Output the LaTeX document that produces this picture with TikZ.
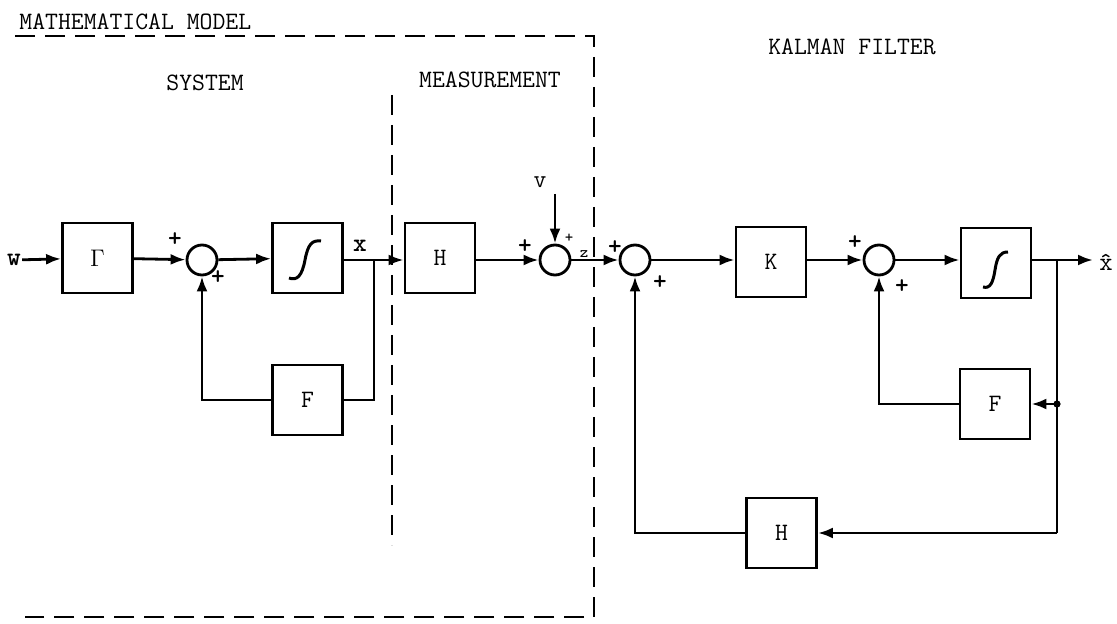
\documentclass[tikz,border=0pt]{standalone}
\usepackage{fontspec}
\usetikzlibrary{arrows.meta}
\begin{document}
\begin{tikzpicture}[x=0.5pt,y=-0.5pt, line width=1.4pt,
  blk/.style={draw, minimum width=35pt, minimum height=35pt, inner sep=0pt, font=\ttfamily\fontsize{12.5}{14}\selectfont},
  sumj/.style={draw, circle, minimum size=15pt, inner sep=0pt},
  lbl/.style={font=\ttfamily\fontsize{12.5}{14}\selectfont, inner sep=0pt},
  sgn/.style={font=\ttfamily\bfseries\fontsize{13}{13}\selectfont, inner sep=0pt},
  arr/.style={-{Latex[length=7.5pt,width=5.5pt]}},
  frame/.style={dash pattern=on 10pt off 5pt, line width=1.2pt}]
\useasboundingbox (0,0) rectangle (1117,624);

% titles
\node[lbl, anchor=west] (tmm) at (18,22) {MATHEMATICAL MODEL};
\node[lbl] (tsys) at (205,83) {SYSTEM};
\node[lbl] (tmeas) at (490,80) {MEASUREMENT};
\node[lbl] (tkf) at (852,47) {KALMAN FILTER};

% frames
\draw[frame] (15,36) -- (594,36) -- (594,617) -- (25,617);
\draw[frame] (392,95) -- (392,545);

% blocks
\node[lbl, font=\ttfamily\bfseries\fontsize{13}{14}\selectfont] (w) at (14,260) {w};
\node[blk] (G) at (97.5,258) {$\Gamma$};
\node[sumj] (s1) at (202,260) {};
\node[blk] (I1) at (307.5,258) {};
\node[blk] (F1) at (307.5,400) {F};
\node[blk] (H1) at (440,258) {H};
\node[sumj] (s2) at (555,260) {};
\node[lbl] (v) at (540,182) {v};
\coordinate (vt) at (555,194);
\node[sumj] (s3) at (635,260) {};
\node[blk] (K) at (771,262) {K};
\node[sumj] (s4) at (879,260) {};
\node[blk] (I2) at (996,263) {};
\node[blk] (F2) at (995,404) {F};
\node[blk] (H2) at (781.5,533) {H};
\node[lbl, font=\ttfamily\bfseries\fontsize{13}{14}\selectfont] (xl) at (360,246) {x};
\node[lbl, font=\ttfamily\fontsize{13}{14}\selectfont] (xh) at (1106,262) {\^x};
\node[lbl, font=\ttfamily\fontsize{8}{9}\selectfont] (zl) at (584,254) {z};

% integrator glyphs
\draw[line width=1.5pt] (289,278) .. controls (297,281) and (302,276) .. (305,260)
  .. controls (308,244) and (312,240) .. (321,241);
\draw[line width=1.5pt] (983,287) .. controls (990,289) and (993,283) .. (995,270)
  .. controls (997,257) and (1000,252) .. (1008,252);

% signs
\node[sgn] at (175,240) {+};
\node[sgn] at (218,278) {+};
\node[sgn] at (525,247) {+};
\node[sgn, font=\ttfamily\fontsize{8}{9}\selectfont] at (569,238) {+};
\node[sgn] at (615,248) {+};
\node[sgn] at (660,283) {+};
\node[sgn] at (855,243) {+};
\node[sgn] at (902,287) {+};

% connectors
\draw[arr] (w) -- (G);
\draw[arr] (G) -- (s1);
\draw[arr] (s1) -- (I1);
\coordinate (b1) at (374,260);
\draw (I1.east |- b1) -- (b1);
\draw[arr] (b1) -- (H1.west |- b1);
\draw (b1) |- (F1.east);
\draw[arr] (F1.west) -| (s1.south);
\draw[arr] (H1.east |- s2) -- (s2);
\draw[arr] (vt) -- (s2.north);
\draw[arr] (s2) -- (s3);
\draw[arr] (s3) -- (K.west |- s3);
\draw[arr] (K.east |- s4) -- (s4);
\draw[arr] (s4) -- (I2.west |- s4);
\coordinate (b2) at (1057,260);
\coordinate (out) at (1093,260);
\draw (I2.east |- b2) -- (b2);
\draw[arr] (b2) -- (out);
\coordinate (b4) at (1057,404);
\coordinate (b3) at (1057,533);
\draw (b2) -- (b3);
\draw[arr] (b4) -- (F2.east);
\fill (b4) circle (1.8pt);
\draw[arr] (b3) -- (H2.east);
\draw[arr] (F2.west) -| (s4.south);
\draw[arr] (H2.west) -| (s3.south);
\end{tikzpicture}
\end{document}
